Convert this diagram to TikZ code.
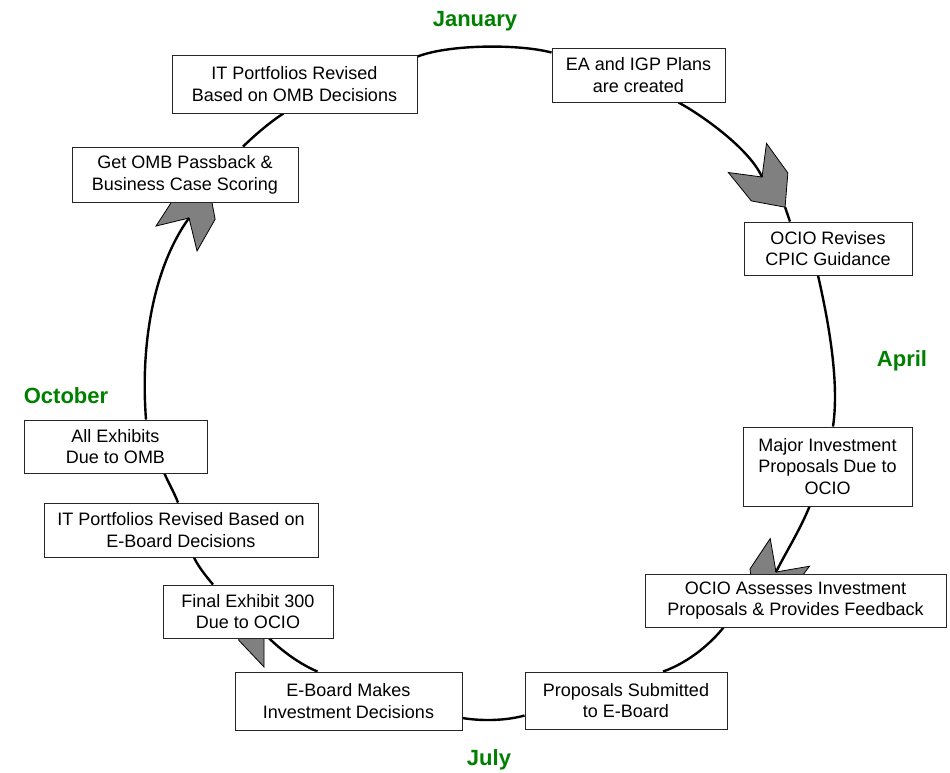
\documentclass[tikz,border=0pt]{standalone}
\usepackage{fontspec}
\setmainfont{Liberation Sans}
\usetikzlibrary{calc}
\definecolor{monthgreen}{RGB}{0,128,0}
\definecolor{chevgray}{RGB}{128,128,128}
\pgfdeclarelayer{background}
\pgfsetlayers{background,main}
\begin{document}
\begin{tikzpicture}[x=1pt,y=-1pt,
  box/.style={draw=black!85, line width=0.9pt, fill=white, inner sep=0pt,
    align=center, font=\fontsize{18}{21.7}\selectfont},
  month/.style={text=monthgreen, font=\fontsize{22}{26}\selectfont\bfseries, anchor=base},
  flow/.style={line width=2.4pt, black},
  chev/.style={draw=black, line width=0.8pt, fill=chevgray, line join=miter}]
\useasboundingbox (0,0) rectangle (950,772);

% process boxes
\node[box, minimum width=245, minimum height=58] (b1) at (294.5,84) {IT Portfolios Revised\\Based on OMB Decisions};
\node[box, minimum width=173, minimum height=54] (b2) at (638.5,75) {EA and IGP Plans\\are created};
\node[box, minimum width=226, minimum height=55] (b3) at (185,174.5) {Get OMB Passback \&\\Business Case Scoring};
\node[box, minimum width=168, minimum height=53] (b4) at (828,248.5) {OCIO Revises\\CPIC Guidance};
\node[box, minimum width=169, minimum height=79] (b5) at (827.5,466.5) {Major Investment\\Proposals Due to\\OCIO};
\node[box, minimum width=301, minimum height=53] (b6) at (795.5,600.5) {OCIO Assesses Investment\\Proposals \& Provides Feedback};
\node[box, minimum width=202, minimum height=57] (b7) at (626,700.5) {Proposals Submitted\\to E-Board};
\node[box, minimum width=227, minimum height=58] (b8) at (348.5,701) {E-Board Makes\\Investment Decisions};
\node[box, minimum width=170, minimum height=53] (b9) at (248,611.5) {Final Exhibit 300\\Due to OCIO};
\node[box, minimum width=274, minimum height=54] (b10) at (181,530) {IT Portfolios Revised Based on\\E-Board Decisions};
\node[box, minimum width=183, minimum height=53] (b11) at (115.5,446.5) {All Exhibits\\Due to OMB};

% month labels
\node[month] (jan) at (475,26.7) {January};
\node[month] (apr) at (902,366.7) {April};
\node[month] (jul) at (489,765) {July};
\node[month] (oct) at (66,403) {October};

\begin{pgfonlayer}{background}
  % chevron arrowheads, each with its notch and tip as named coordinates
  \begin{scope}[shift={(762,177)}, rotate=-52.6]
    \draw[chev] (0,0) -- (-24,-24) -- (12.5,-23) -- (38,0) -- (12.5,23) -- (-24,24) -- cycle;
    \coordinate (n1) at (0,0); \coordinate (t1) at (38,0);
  \end{scope}
  \begin{scope}[shift={(189,218)}, rotate=58.7]
    \draw[chev] (0,0) -- (-24,-24) -- (12.5,-23) -- (38,0) -- (12.5,23) -- (-24,24) -- cycle;
    \coordinate (n2) at (0,0);
  \end{scope}
  \begin{scope}[shift={(776,572)}, rotate=-125.2]
    \draw[chev] (0,0) -- (-24,-24) -- (12.5,-23) -- (38,0) -- (12.5,23) -- (-24,24) -- cycle;
    \coordinate (n3) at (0,0);
  \end{scope}
  \begin{scope}[shift={(264,633)}, rotate=135]
    \draw[chev] (0,0) -- (-24,-24) -- (12.5,-23) -- (38,0) -- (12.5,23) -- (-24,24) -- cycle;
    \coordinate (n4) at (0,0);
  \end{scope}

  % the yearly cycle
  \draw[flow] ([yshift=-2pt]b1.north east) .. controls (450,44) and (520,44) .. ([yshift=-5pt]b2.north west);
  \draw[flow] ([xshift=40pt]b2.south) .. controls (705,117) and (750,150) .. (n1);
  \draw[flow] (t1) -- ([xshift=-38pt]b4.north);
  \draw[flow] ([xshift=-10pt]b4.south) .. controls (827,315) and (840,380) .. ([xshift=5.5pt]b5.north);
  \draw[flow] ([xshift=-18pt]b5.south) .. controls (800,530) and (786,552) .. (n3);
  \draw[flow] ([xshift=-72pt]b6.south) .. controls (712,642) and (690,662) .. ([xshift=37pt]b7.north);
  \draw[flow] ([yshift=-15pt]b7.west) .. controls (505,721) and (480,721) .. ([yshift=-17pt]b8.east);
  \draw[flow] ([xshift=-31pt]b8.north) .. controls (295,662) and (275,645) .. (n4);
  \draw[flow] ([xshift=-35pt]b9.north) .. controls (205,575) and (198,566) .. ([xshift=13pt]b10.south);
  \draw[flow] ([xshift=-3pt]b10.north) .. controls (174,492) and (168,482) .. ([xshift=-43pt]b11.south east);
  \draw[flow] ([xshift=30.5pt]b11.north) .. controls (140,340) and (155,265) .. (n2);
  \draw[flow] ([xshift=58pt]b3.north) .. controls (255,135) and (270,122) .. ([xshift=-11pt]b1.south);
\end{pgfonlayer}
\end{tikzpicture}
\end{document}
